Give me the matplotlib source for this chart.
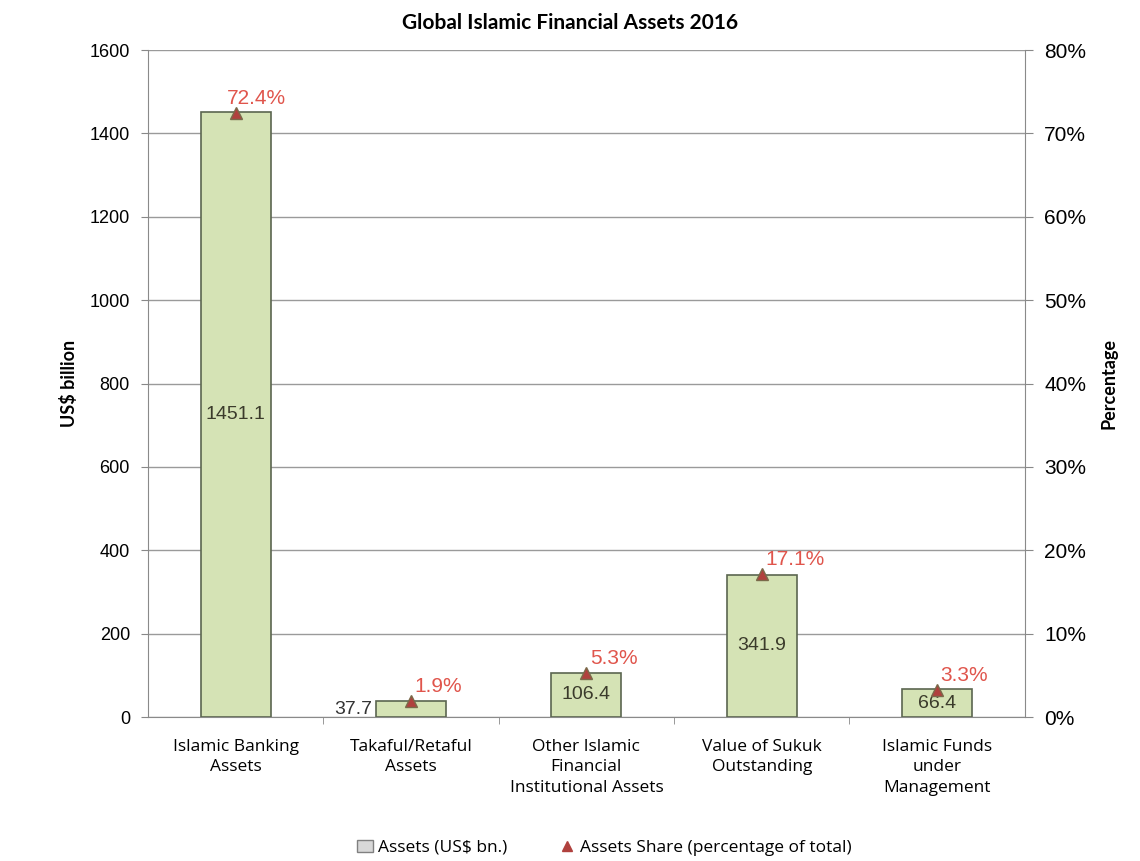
import numpy as np
import matplotlib
matplotlib.use('Agg')
import matplotlib.pyplot as plt
from matplotlib.lines import Line2D
from matplotlib.patches import Patch

CATEGORIES = ['Islamic Banking\nAssets', 'Takaful/Retaful\nAssets',
              'Other Islamic\nFinancial\nInstitutional Assets',
              'Value of Sukuk\nOutstanding', 'Islamic Funds\nunder\nManagement']
ASSETS = [1451.1, 37.7, 106.4, 341.9, 66.4]
SHARE = [72.4, 1.9, 5.3, 17.1, 3.3]

BAR_FC = '#d5e3b5'
BAR_EC = '#5b6650'
RED = '#e0554c'

plt.rcParams['font.family'] = ['Liberation Sans', 'DejaVu Sans']

fig = plt.figure(figsize=(11.4, 8.61), dpi=100)
ax = fig.add_axes([0.1298, 0.1672, 0.7692, 0.7747])
ax2 = ax.twinx()

x = np.arange(len(CATEGORIES))
bars = ax.bar(x, ASSETS, width=0.4, color=BAR_FC, edgecolor=BAR_EC, linewidth=1.2, zorder=3)
ax.set_xlim(-0.5, len(CATEGORIES) - 0.5)
ax.set_ylim(0, 1600)
ax.set_yticks(np.arange(0, 1601, 200))
ax.yaxis.grid(True, color='#9a9a9a', linewidth=1.0, zorder=0)
ax.set_axisbelow(True)
ax.set_xticks(x)
ax.set_xticklabels(CATEGORIES, fontsize=12.5, family=['Open Sans', 'DejaVu Sans'], linespacing=1.35)
ax.tick_params(axis='x', length=0, pad=16)
ax.set_xticks(np.arange(0.5, len(CATEGORIES) - 0.5), minor=True)
ax.tick_params(axis='x', which='minor', length=5, color='#888888')
ax.tick_params(axis='y', labelsize=13, length=5, color='#888888', pad=8)
ax.spines['top'].set_visible(False)
for s in ['left', 'right', 'bottom']:
    ax.spines[s].set_color('#8a8a8a')
ax.set_ylabel('US$ billion', fontsize=13, fontweight='bold', family=['Lato', 'DejaVu Sans'], labelpad=8)

# value labels on bars (the smallest one sits left of its bar)
for i, v in enumerate(ASSETS):
    if v < 50:
        ax.text(i - 0.22, v / 2, f'{v:.1f}', ha='right', va='center', fontsize=14, color='#333333', zorder=5)
    else:
        ax.text(i, v / 2, f'{v:.1f}', ha='center', va='center', fontsize=14, color='#3b3b2b', zorder=5)

# share markers on right axis
ax2.set_ylim(0, 80)
ax2.set_yticks(np.arange(0, 81, 10))
ax2.set_yticklabels([f'{t}%' for t in range(0, 81, 10)])
ax2.tick_params(axis='y', labelsize=15, length=6, color='#888888', pad=8)
ax2.plot(x, SHARE, ls='none', marker='^', ms=8, color='#b0413e', markeredgecolor='#7a6a4a', zorder=6)
for i, s in enumerate(SHARE):
    ax2.text(i - 0.05 if s > 50 else i + 0.02, s + 0.6, f'{s}%', ha='left', va='bottom',
             fontsize=15, color=RED, zorder=7)
for sp in ax2.spines.values():
    sp.set_visible(False)
ax2.set_ylabel('Percentage', fontsize=13, fontweight='bold', family=['Lato', 'DejaVu Sans'], labelpad=10)

fig.suptitle('Global Islamic Financial Assets 2016', y=0.985, fontsize=15, fontweight='bold',
             family=['Lato', 'DejaVu Sans'])

handles = [Patch(facecolor='#d8d8d8', edgecolor='#808080', label='Assets (US$ bn.)'),
           Line2D([], [], ls='none', marker='^', ms=7, color='#b0413e',
                  label='Assets Share (percentage of total)')]
fig.legend(handles=handles, loc='lower center', bbox_to_anchor=(0.53, -0.012), ncol=2, frameon=False,
           prop={'family': ['Open Sans', 'DejaVu Sans'], 'size': 12.5}, handlelength=0.9,
           handletextpad=0.3, columnspacing=3)

fig.savefig('out.png', dpi=100)
